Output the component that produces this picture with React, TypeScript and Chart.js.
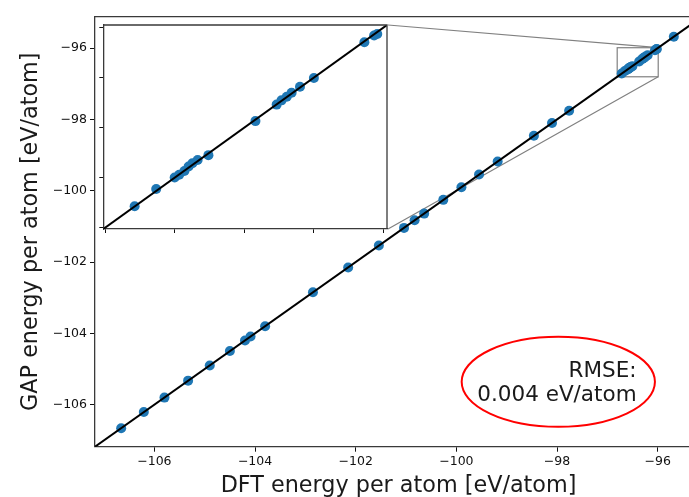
import React, { useEffect, useRef } from "react";
import { Chart, registerables } from "chart.js";

Chart.register(...registerables);

// DFT reference energies and GAP predictions (eV/atom), one entry per structure
const dftEnergy = [
  -106.66, -106.21, -105.8, -105.33, -104.9, -104.5, -104.2, -104.09, -103.8,
  -102.85, -102.15, -101.54, -101.04, -100.83, -100.64, -100.26, -99.9, -99.55,
  -99.18, -98.46, -98.1, -97.76,
  -96.715, -96.653, -96.6, -96.587, -96.572, -96.56, -96.549, -96.534, -96.503,
  -96.368, -96.307, -96.293, -96.278, -96.264, -96.24, -96.2, -96.055, -96.027,
  -96.018, -95.68,
];
const gapEnergy = [
  -106.663, -106.207, -105.803, -105.327, -104.904, -104.497, -104.203, -104.087, -103.803,
  -102.846, -102.153, -101.537, -101.043, -100.827, -100.643, -100.257, -99.903, -99.546,
  -99.183, -98.457, -98.103, -97.757,
  -96.714, -96.645, -96.599, -96.588, -96.573, -96.555, -96.542, -96.529, -96.51,
  -96.374, -96.308, -96.291, -96.277, -96.261, -96.237, -96.202, -96.059, -96.032,
  -96.026, -95.683,
];

const axisTicks = [-106, -104, -102, -100, -98, -96];
const insetTicks = [-96.8, -96.6, -96.4, -96.2, -96.0];
const axisLimits = [-107.18, -95.12];
const insetLimits = [-96.805, -95.99];
const rmseLines = ["RMSE:", "0.004 eV/atom"];

const FONT = "'DejaVu Sans', 'Liberation Sans', sans-serif";
const BLUE = "#1f77b4";
const SPINE = "#3a3a3a";

// Page-pixel geometry of the zoomed inset axes
const INSET = { left: 103.3, top: 25, right: 388, bottom: 229 };
const INSET_CANVAS = { left: 96, top: 20, width: 296, height: 216 };
const MAIN_W = 707;

const minus = (v: number) => {
  const s = Number.isInteger(v) ? String(Math.abs(v)) : Math.abs(v).toFixed(1);
  return v < 0 ? "\u2212" + s : s;
};

const points = dftEnergy.map((x, i) => ({ x, y: gapEnergy[i] }));

function App() {
  const mainRef = useRef<HTMLCanvasElement | null>(null);
  const insetRef = useRef<HTMLCanvasElement | null>(null);

  useEffect(() => {
    if (!mainRef.current || !insetRef.current) return;
    Chart.defaults.font.family = FONT;

    const mainDecor = {
      id: "mainDecor",
      beforeDatasetsDraw(chart: any) {
        const { ctx } = chart;
        const xs = chart.scales.x;
        const ys = chart.scales.y;
        // zoom rectangle and its connectors to the inset
        const rx0 = xs.getPixelForValue(insetLimits[0]);
        const rx1 = xs.getPixelForValue(insetLimits[1]);
        const ry0 = ys.getPixelForValue(insetLimits[0]);
        const ry1 = ys.getPixelForValue(insetLimits[1]);
        ctx.save();
        ctx.strokeStyle = "#808080";
        ctx.lineWidth = 1.2;
        ctx.strokeRect(rx0, ry1, rx1 - rx0, ry0 - ry1);
        ctx.beginPath();
        ctx.moveTo(rx1, ry1);
        ctx.lineTo(INSET.right, INSET.top);
        ctx.moveTo(rx1, ry0);
        ctx.lineTo(INSET.right, INSET.bottom);
        ctx.stroke();
        ctx.restore();
      },
      afterDraw(chart: any) {
        const { ctx, chartArea } = chart;
        const xs = chart.scales.x;
        const ys = chart.scales.y;
        ctx.save();
        // top spine
        ctx.strokeStyle = SPINE;
        ctx.lineWidth = 1.3;
        ctx.beginPath();
        ctx.moveTo(chartArea.left, chartArea.top);
        ctx.lineTo(chartArea.right, chartArea.top);
        ctx.stroke();

        // RMSE ellipse, in data coordinates
        const cx = xs.getPixelForValue(-97.975);
        const cy = ys.getPixelForValue(-105.36);
        const rx = Math.abs(xs.getPixelForValue(-97.975 + 1.92) - cx);
        const ry = Math.abs(ys.getPixelForValue(-105.36 + 1.262) - cy);
        ctx.strokeStyle = "#ff0000";
        ctx.lineWidth = 2;
        ctx.beginPath();
        ctx.ellipse(cx, cy, rx, ry, 0, 0, Math.PI * 2);
        ctx.stroke();

        // RMSE text
        ctx.fillStyle = "#1a1a1a";
        ctx.font = `21.5px ${FONT}`;
        ctx.textAlign = "right";
        ctx.textBaseline = "alphabetic";
        const tx = xs.getPixelForValue(-96.42);
        const ty = ys.getPixelForValue(-105.215);
        rmseLines.forEach((line, i) => ctx.fillText(line, tx, ty + i * 24));
        ctx.restore();
      },
    };

    const insetDecor = {
      id: "insetDecor",
      beforeDraw(chart: any) {
        const { ctx, chartArea } = chart;
        ctx.save();
        ctx.fillStyle = "#ffffff";
        ctx.fillRect(chartArea.left, chartArea.top, chartArea.right - chartArea.left, chartArea.bottom - chartArea.top);
        ctx.restore();
      },
      afterDraw(chart: any) {
        const { ctx, chartArea } = chart;
        ctx.save();
        ctx.strokeStyle = SPINE;
        ctx.lineWidth = 1.3;
        ctx.beginPath();
        ctx.moveTo(chartArea.left, chartArea.top);
        ctx.lineTo(chartArea.right, chartArea.top);
        ctx.lineTo(chartArea.right, chartArea.bottom);
        ctx.stroke();
        ctx.restore();
      },
    };

    const tickFont = { family: FONT, size: 12.5 };
    const titleFont = { family: FONT, size: 22.3, lineHeight: 1 };

    const main = new Chart(mainRef.current, {
      type: "scatter",
      data: {
        datasets: [
          {
            data: [
              { x: axisLimits[0], y: axisLimits[0] },
              { x: axisLimits[1], y: axisLimits[1] },
            ],
            showLine: true,
            borderColor: "#000000",
            borderWidth: 2,
            pointRadius: 0,
            order: 0,
          },
          {
            data: points,
            backgroundColor: BLUE,
            borderWidth: 0,
            pointRadius: 5,
            order: 1,
          },
        ],
      },
      options: {
        animation: false,
        responsive: false,
        events: [],
        layout: { padding: { top: 16.7, right: 0, left: 0, bottom: 0 } },
        plugins: { legend: { display: false }, tooltip: { enabled: false } },
        scales: {
          x: {
            type: "linear",
            min: axisLimits[0],
            max: axisLimits[1],
            afterBuildTicks: (s: any) => {
              s.ticks = axisTicks.map((value) => ({ value }));
            },
            afterFit: (s: any) => {
              s.height = 50.3;
              s.paddingLeft = 0;
              s.paddingRight = 0;
            },
            ticks: {
              callback: (v: any) => minus(Number(v)),
              font: tickFont,
              color: "#111",
              padding: 3,
              maxRotation: 0,
              autoSkip: false,
            },
            grid: { drawOnChartArea: false, drawTicks: true, tickLength: 5, tickColor: "#111", tickWidth: 1 },
            border: { display: true, color: SPINE, width: 1.3 },
            title: {
              display: true,
              text: "DFT energy per atom [eV/atom]",
              font: titleFont,
              color: "#1a1a1a",
              padding: { top: 0, bottom: 0 },
            },
          },
          y: {
            type: "linear",
            min: axisLimits[0],
            max: axisLimits[1],
            afterBuildTicks: (s: any) => {
              s.ticks = axisTicks.map((value) => ({ value }));
            },
            afterFit: (s: any) => {
              s.width = 95;
              s.paddingTop = 0;
              s.paddingBottom = 0;
            },
            ticks: {
              callback: (v: any) => minus(Number(v)),
              font: tickFont,
              color: "#111",
              padding: 3,
              autoSkip: false,
            },
            grid: { drawOnChartArea: false, drawTicks: true, tickLength: 5, tickColor: "#111", tickWidth: 1 },
            border: { display: true, color: SPINE, width: 1.3 },
            title: {
              display: true,
              text: "GAP energy per atom [eV/atom]",
              font: titleFont,
              color: "#1a1a1a",
              padding: { top: 20, bottom: 0 },
            },
          },
        },
      },
      plugins: [mainDecor],
    } as any);

    const inset = new Chart(insetRef.current, {
      type: "scatter",
      data: {
        datasets: [
          {
            data: [
              { x: insetLimits[0], y: insetLimits[0] },
              { x: insetLimits[1], y: insetLimits[1] },
            ],
            showLine: true,
            borderColor: "#000000",
            borderWidth: 2,
            pointRadius: 0,
            order: 0,
          },
          {
            data: points,
            backgroundColor: BLUE,
            borderWidth: 0,
            pointRadius: 5,
            order: 1,
          },
        ],
      },
      options: {
        animation: false,
        responsive: false,
        events: [],
        layout: {
          padding: {
            top: INSET.top - INSET_CANVAS.top,
            right: INSET_CANVAS.left + INSET_CANVAS.width - INSET.right,
            left: 0,
            bottom: INSET_CANVAS.top + INSET_CANVAS.height - INSET.bottom - 5,
          },
        },
        plugins: { legend: { display: false }, tooltip: { enabled: false } },
        scales: {
          x: {
            type: "linear",
            min: insetLimits[0],
            max: insetLimits[1],
            afterBuildTicks: (s: any) => {
              s.ticks = insetTicks.map((value) => ({ value }));
            },
            afterFit: (s: any) => {
              s.height = 5;
              s.paddingLeft = 0;
              s.paddingRight = 0;
            },
            ticks: { display: false },
            grid: { drawOnChartArea: false, drawTicks: true, tickLength: 4, tickColor: "#111", tickWidth: 1 },
            border: { display: true, color: SPINE, width: 1.3 },
          },
          y: {
            type: "linear",
            min: insetLimits[0],
            max: insetLimits[1],
            afterBuildTicks: (s: any) => {
              s.ticks = insetTicks.map((value) => ({ value }));
            },
            afterFit: (s: any) => {
              s.width = INSET.left - INSET_CANVAS.left;
              s.paddingTop = 0;
              s.paddingBottom = 0;
            },
            ticks: { display: false },
            grid: { drawOnChartArea: false, drawTicks: true, tickLength: 4, tickColor: "#111", tickWidth: 1 },
            border: { display: true, color: SPINE, width: 1.3 },
          },
        },
      },
      plugins: [insetDecor],
    } as any);

    return () => {
      main.destroy();
      inset.destroy();
    };
  }, []);

  return (
    <div
      style={{
        position: "fixed",
        left: 0,
        top: 0,
        width: 689,
        height: 497,
        overflow: "hidden",
        background: "#ffffff",
      }}
    >
      <canvas
        ref={mainRef}
        width={MAIN_W}
        height={497}
        style={{ position: "absolute", left: 0, top: 0, width: MAIN_W, height: 497 }}
      />
      <canvas
        ref={insetRef}
        width={INSET_CANVAS.width}
        height={INSET_CANVAS.height}
        style={{
          position: "absolute",
          left: INSET_CANVAS.left,
          top: INSET_CANVAS.top,
          width: INSET_CANVAS.width,
          height: INSET_CANVAS.height,
        }}
      />
    </div>
  );
}

export default App;
